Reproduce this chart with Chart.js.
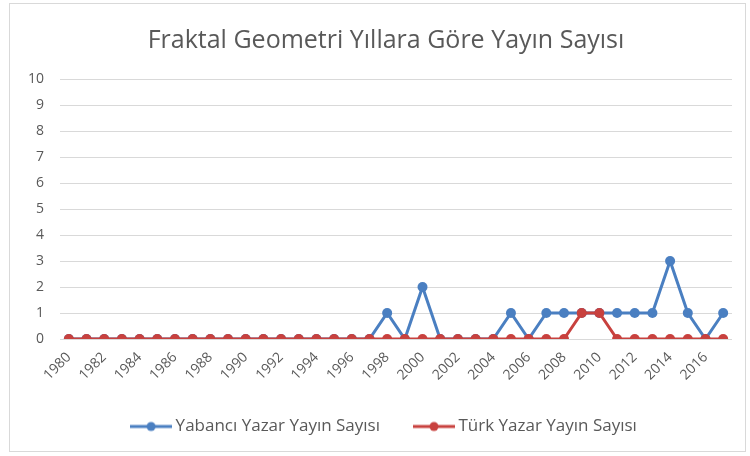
<!DOCTYPE html>
<html>
<head>
<meta charset="utf-8">
<script src="https://cdn.jsdelivr.net/npm/chart.js@4/dist/chart.umd.min.js"></script>
<style>
  html, body { margin: 0; padding: 0; background: #fff; }
  #wrap { position: relative; width: 750px; height: 456px; }
  #frame { position: absolute; left: 9px; top: 3px; width: 737px; height: 449px; border: 1px solid #d9d9d9; box-sizing: border-box; pointer-events: none; }
  canvas { position: absolute; left: 0; top: 0; }
</style>
</head>
<body>
<div id="wrap">
  <canvas id="yayinChart" width="750" height="456"></canvas>
  <div id="frame"></div>
</div>
<script>
// Years 1980..2017
const years = ["1980","1981","1982","1983","1984","1985","1986","1987","1988","1989",
  "1990","1991","1992","1993","1994","1995","1996","1997","1998","1999",
  "2000","2001","2002","2003","2004","2005","2006","2007","2008","2009",
  "2010","2011","2012","2013","2014","2015","2016","2017"];

const yabanciValues = [0,0,0,0,0,0,0,0,0,0,
  0,0,0,0,0,0,0,0,1,0,
  2,0,0,0,0,1,0,1,1,1,
  1,1,1,1,3,1,0,1];

const turkValues = [0,0,0,0,0,0,0,0,0,0,
  0,0,0,0,0,0,0,0,0,0,
  0,0,0,0,0,0,0,0,0,1,
  1,0,0,0,0,0,0,0];

const yTicks = [0,1,2,3,4,5,6,7,8,9,10];

const BLUE = '#4a7fc1';
const RED = '#c8413e';
const TEXT = '#595959';

// legend marker: short line with a dot in the middle
function legendMarker(color) {
  const c = document.createElement('canvas');
  c.width = 42; c.height = 12;
  const g = c.getContext('2d');
  g.strokeStyle = color;
  g.lineWidth = 3;
  g.beginPath(); g.moveTo(0, 6); g.lineTo(42, 6); g.stroke();
  g.fillStyle = color;
  g.beginPath(); g.arc(21, 6, 4.5, 0, Math.PI * 2); g.fill();
  return c;
}

const ctx = document.getElementById('yayinChart').getContext('2d');
new Chart(ctx, {
  type: 'line',
  data: {
    labels: years,
    datasets: [
      {
        label: 'Yabancı Yazar Yayın Sayısı',
        data: yabanciValues,
        order: 1,
        borderColor: BLUE,
        backgroundColor: BLUE,
        borderWidth: 3,
        pointRadius: 5,
        pointBackgroundColor: BLUE,
        pointBorderWidth: 0,
        tension: 0
      },
      {
        label: 'Türk Yazar Yayın Sayısı',
        data: turkValues,
        order: 0,
        borderColor: RED,
        backgroundColor: RED,
        borderWidth: 3,
        pointRadius: 5,
        pointBackgroundColor: RED,
        pointBorderWidth: 0,
        tension: 0
      }
    ]
  },
  options: {
    responsive: false,
    animation: false,
    layout: { padding: { left: 40, right: 18, top: 8, bottom: 11 } },
    plugins: {
      title: {
        display: true,
        text: 'Fraktal Geometri Yıllara Göre Yayın Sayısı',
        color: TEXT,
        font: { family: 'Open Sans', size: 25, weight: 'normal' },
        padding: { top: 18, bottom: 23 }
      },
      legend: {
        position: 'bottom',
        labels: {
          usePointStyle: true,
          pointStyleWidth: 32,
          color: TEXT,
          font: { family: 'Open Sans', size: 17 },
          padding: 38,
          generateLabels(chart) {
            return chart.data.datasets.map((ds, i) => ({
              text: ds.label,
              fontColor: TEXT,
              pointStyle: legendMarker(ds.borderColor),
              datasetIndex: i,
              hidden: false
            }));
          }
        }
      },
      tooltip: { enabled: false }
    },
    scales: {
      x: {
        offset: true,
        grid: { display: false },
        border: { display: false },
        ticks: {
          autoSkip: false,
          maxRotation: 45,
          minRotation: 45,
          color: TEXT,
          font: { family: 'Open Sans', size: 14 },
          padding: 2,
          callback: function (val, idx) { return idx % 2 === 0 ? this.getLabelForValue(val) : ''; }
        },
        afterFit(scale) { scale.height = 41; }
      },
      y: {
        min: 0,
        max: 10,
        afterBuildTicks(scale) { scale.ticks = yTicks.map(v => ({ value: v })); },
        grid: { color: '#d9d9d9', lineWidth: 1, drawTicks: false },
        border: { display: false },
        ticks: {
          mirror: true,
          padding: -32,
          color: TEXT,
          font: { family: 'Open Sans', size: 14 },
          // pad single digits with a figure space so labels line up on the right
          callback: v => (v < 10 ? '\u2007' + v : String(v))
        },
        afterFit(scale) { scale.width = 20; }
      }
    }
  }
});
</script>
</body>
</html>
